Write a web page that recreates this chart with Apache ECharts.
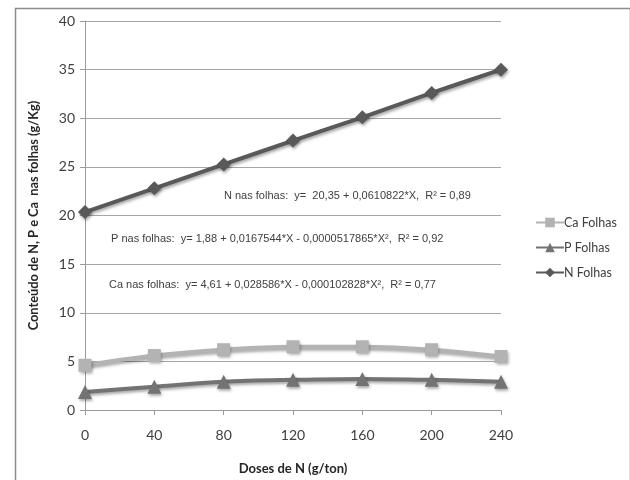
<!DOCTYPE html>
<html>
<head>
<meta charset="utf-8">
<script src="https://cdn.jsdelivr.net/npm/echarts@6/dist/echarts.min.js"></script>
<style>
  html, body { margin: 0; padding: 0; background: #fff; }
  #container { width: 630px; height: 480px; }
</style>
</head>
<body>
<div id="container"></div>
<script>
    // doses de N (g/ton)
    var doses = ['0', '40', '80', '120', '160', '200', '240'];
    var caFolhas = [4.6, 5.6, 6.2, 6.5, 6.5, 6.2, 5.5];
    var pFolhas = [1.85, 2.4, 2.9, 3.1, 3.2, 3.1, 2.9];
    var nFolhas = [20.35, 22.8, 25.25, 27.7, 30.1, 32.6, 35.0];

    var eqN = 'N nas folhas:  y=  20,35 + 0,0610822*X,  R² = 0,89';
    var eqP = 'P nas folhas:  y= 1,88 + 0,0167544*X - 0,0000517865*X²,  R² = 0,92';
    var eqCa = 'Ca nas folhas:  y= 4,61 + 0,028586*X - 0,000102828*X²,  R² = 0,77';

    var sombra = { shadowBlur: 3, shadowColor: 'rgba(0, 0, 0, 0.35)', shadowOffsetX: 1, shadowOffsetY: 2 };
    var eqStyle = { fontFamily: 'Liberation Sans', fontSize: 11, fill: '#404040' };

    function serie(nome, dados, cor, simbolo, tam) {
        return {
            name: nome,
            type: 'line',
            data: dados,
            smooth: 0.35,
            symbol: simbolo,
            symbolSize: tam,
            lineStyle: Object.assign({ color: cor, width: 4 }, sombra),
            itemStyle: Object.assign({ color: cor }, sombra),
            emphasis: { disabled: true }
        };
    }

    var option = {
        animation: false,
        textStyle: { fontFamily: 'Lato' },
        grid: { left: 85, right: 129, top: 21, bottom: 69 },
        legend: {
            orient: 'vertical',
            left: 530,
            top: 211,
            itemWidth: 28,
            itemHeight: 12,
            itemGap: 12,
            data: ['Ca Folhas', 'P Folhas', 'N Folhas'],
            textStyle: { fontFamily: 'Lato', fontSize: 12.5, color: '#404040', padding: [0, 0, 0, -5] }
        },
        xAxis: {
            type: 'category',
            data: doses,
            boundaryGap: false,
            name: 'Doses de N (g/ton)',
            nameLocation: 'middle',
            nameGap: 52,
            nameTextStyle: { fontFamily: 'Lato', fontSize: 13, fontWeight: 'bold', color: '#262626' },
            axisLine: { lineStyle: { color: '#9a9a9a', width: 1 } },
            axisTick: { length: 5, lineStyle: { color: '#9a9a9a' } },
            axisLabel: { fontSize: 14, color: '#404040', margin: 18 },
            splitLine: { show: false }
        },
        yAxis: {
            type: 'value',
            min: 0,
            max: 40,
            interval: 5,
            name: 'Conteúdo de N, P e Ca  nas folhas (g/Kg)',
            nameLocation: 'middle',
            nameRotate: 90,
            nameGap: 45,
            nameTextStyle: { fontFamily: 'Lato', fontSize: 12.8, fontWeight: 'bold', color: '#262626' },
            axisLine: { show: true, lineStyle: { color: '#9a9a9a', width: 1 } },
            axisTick: { show: true, length: 5, lineStyle: { color: '#9a9a9a' } },
            axisLabel: { fontSize: 14, color: '#404040', margin: 10 },
            splitLine: { lineStyle: { color: '#a6a6a6', width: 1 } }
        },
        graphic: [
            { type: 'rect', left: 13, top: 6, shape: { width: 615, height: 490 }, style: { fill: 'none', stroke: '#8c8c8c', lineWidth: 1.5 }, z: -1 },
            { type: 'text', left: 224, top: 190, style: Object.assign({ text: eqN }, eqStyle) },
            { type: 'text', left: 111, top: 233, style: Object.assign({ text: eqP }, eqStyle) },
            { type: 'text', left: 109, top: 279, style: Object.assign({ text: eqCa }, eqStyle) }
        ],
        series: [
            serie('Ca Folhas', caFolhas, '#b3b3b3', 'rect', 13),
            serie('P Folhas', pFolhas, '#737373', 'triangle', 14),
            serie('N Folhas', nFolhas, '#595959', 'diamond', 14)
        ]
    };
    var myChart = echarts.init(document.getElementById('container'));
    myChart.setOption(option);
</script>
</body>
</html>
